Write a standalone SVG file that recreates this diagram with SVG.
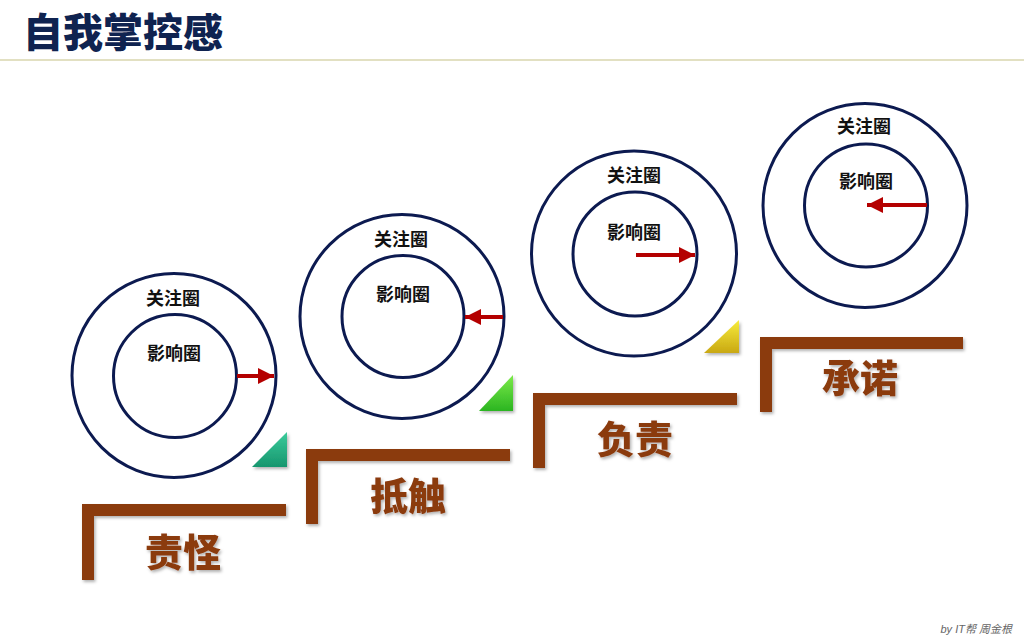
<svg xmlns="http://www.w3.org/2000/svg" width="1024" height="640" viewBox="0 0 1024 640">
<style>
.outer{fill:none;stroke:#0C1A50;stroke-width:3}
.inner{fill:none;stroke:#0C1A50;stroke-width:3}
.lbl{font-family:"Noto Sans CJK SC",sans-serif;font-weight:700;font-size:18px;fill:#111;text-anchor:middle}
.step{fill:#8B3A10}
.stxt{font-family:"Noto Sans CJK SC",sans-serif;font-weight:900;font-size:38px;fill:#8B3A10;text-anchor:middle}
.arr{stroke:#B40000;stroke-width:4;fill:none}
</style>
<defs>
<marker id="ah" viewBox="0 0 10 10" refX="10" refY="5" markerWidth="4" markerHeight="4" orient="auto" markerUnits="strokeWidth">
<path d="M0,0 L10,5 L0,10 z" fill="#B40000"/>
</marker>
<filter id="sh" x="-10%" y="-10%" width="130%" height="140%">
<feDropShadow dx="1.5" dy="2" stdDeviation="1.5" flood-color="#000" flood-opacity="0.3"/>
</filter>
<linearGradient id="g1" x1="0" y1="0" x2="0" y2="1"><stop offset="0" stop-color="#3BCB9B"/><stop offset="1" stop-color="#17966E"/></linearGradient>
<linearGradient id="g2" x1="0" y1="0" x2="0" y2="1"><stop offset="0" stop-color="#7DEB4A"/><stop offset="1" stop-color="#2BB521"/></linearGradient>
<linearGradient id="g3" x1="0" y1="0" x2="0" y2="1"><stop offset="0" stop-color="#F7EC3C"/><stop offset="1" stop-color="#C9A812"/></linearGradient>
</defs>
<rect width="1024" height="640" fill="#fff"/>
<g id="title">
<text x="23" y="47" font-family="Noto Sans CJK SC,sans-serif" font-weight="900" font-size="40" fill="#0F2350">自我掌控感</text>
<line x1="0" y1="60" x2="1024" y2="60" stroke="#D9D6AE" stroke-width="1.5"/>
</g>
<g id="circle1">
<circle class="outer" cx="174" cy="375.5" r="102"/>
<circle class="inner" cx="175" cy="376" r="61.5"/>
<text class="lbl" x="173" y="305">关注圈</text>
<text class="lbl" x="174" y="360">影响圈</text>
</g>
<g id="circle2">
<circle class="outer" cx="402" cy="316.5" r="102"/>
<circle class="inner" cx="403" cy="316.5" r="61"/>
<text class="lbl" x="401" y="246">关注圈</text>
<text class="lbl" x="403" y="301">影响圈</text>
</g>
<g id="circle3">
<circle class="outer" cx="634" cy="253.5" r="102.5"/>
<circle class="inner" cx="635" cy="254" r="62"/>
<text class="lbl" x="634" y="182">关注圈</text>
<text class="lbl" x="634" y="239">影响圈</text>
</g>
<g id="circle4">
<circle class="outer" cx="865" cy="205.5" r="102"/>
<circle class="inner" cx="866" cy="205.5" r="61.5"/>
<text class="lbl" x="864" y="133">关注圈</text>
<text class="lbl" x="866" y="188">影响圈</text>
</g>
<g id="connectors">
<line class="arr" x1="237" y1="376" x2="274" y2="376" marker-end="url(#ah)"/>
<line class="arr" x1="503" y1="317" x2="465" y2="317" marker-end="url(#ah)"/>
<line class="arr" x1="636" y1="255" x2="695" y2="255" marker-end="url(#ah)"/>
<line class="arr" x1="927" y1="205" x2="867" y2="205" marker-end="url(#ah)"/>
</g>
<g id="triangles" filter="url(#sh)">
<polygon points="252,467 287,432 287,467" fill="url(#g1)"/>
<polygon points="479,411 513,375 513,411" fill="url(#g2)"/>
<polygon points="704,353 739,320 739,353" fill="url(#g3)"/>
</g>
<g id="step1" filter="url(#sh)">
<path class="step" d="M82,504 H286 V516 H94 V580 H82 Z"/>
<text class="stxt" x="183" y="566">责怪</text>
</g>
<g id="step2" filter="url(#sh)">
<path class="step" d="M306,449 H510 V461 H318 V524 H306 Z"/>
<text class="stxt" x="408" y="510">抵触</text>
</g>
<g id="step3" filter="url(#sh)">
<path class="step" d="M533,393 H737 V405 H545 V468 H533 Z"/>
<text class="stxt" x="635" y="453">负责</text>
</g>
<g id="step4" filter="url(#sh)">
<path class="step" d="M760,337 H963 V349 H772 V412 H760 Z"/>
<text class="stxt" x="860" y="392">承诺</text>
</g>
<text x="1012" y="633" text-anchor="end" font-family="Liberation Sans,Noto Sans CJK SC,sans-serif" font-style="italic" font-size="11" fill="#666">by IT帮 周金根</text>
</svg>
